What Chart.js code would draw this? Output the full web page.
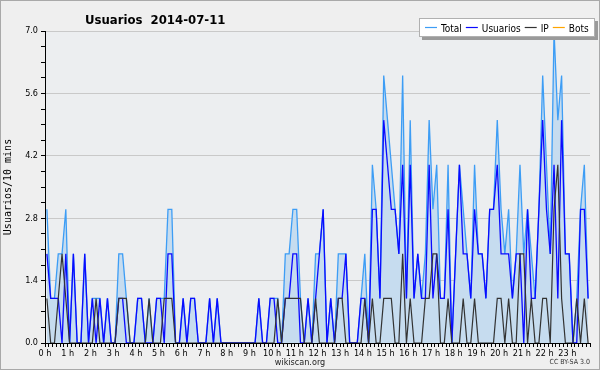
<!DOCTYPE html>
<html>
<head>
<meta charset="utf-8">
<title>Usuarios 2014-07-11</title>
<script src="https://cdn.jsdelivr.net/npm/chart.js@4"></script>
<style>
  html, body { margin: 0; padding: 0; background: #efefef; }
  canvas { display: block; }
</style>
</head>
<body>
<canvas id="chart" width="600" height="370"></canvas>
<script>
// one value per 10 minutes, 144 per day (12 per row = 2 hours)
const total = [
  3,1,1,2,2,3,0,2,0,0,2,0,
  1,1,1,0,1,0,0,2,2,1,0,0,
  1,1,0,1,0,1,1,1,3,3,0,0,
  1,0,1,1,0,0,0,1,0,1,0,0,
  0,0,0,0,0,0,0,0,1,0,0,1,
  1,1,0,2,2,3,3,1,0,1,0,2,
  2,3,0,1,0,2,2,2,0,0,0,1,
  2,0,4,3,1,6,5,4,3,2,6,1,
  5,1,2,1,2,5,3,4,1,1,4,0,
  2,4,3,2,1,4,2,2,1,3,3,5,
  3,2,3,1,2,4,2,3,2,1,3,6,
  4,2,7,5,6,2,2,0,1,3,4,1
];
const usuarios = [
  2,1,1,1,0,2,0,2,0,0,2,0,
  1,0,1,0,1,0,0,1,1,0,0,0,
  1,1,0,0,0,1,1,0,2,2,0,0,
  1,0,1,1,0,0,0,1,0,1,0,0,
  0,0,0,0,0,0,0,0,1,0,0,1,
  1,0,0,1,1,2,2,0,0,1,0,1,
  2,3,0,1,0,1,1,2,0,0,0,1,
  1,0,3,3,1,5,4,3,3,2,4,1,
  4,1,2,1,1,4,1,2,1,1,3,0,
  2,4,2,2,1,3,2,2,1,3,3,4,
  2,2,2,1,2,2,0,3,1,1,3,5,
  3,2,4,1,5,2,2,0,0,3,3,1
];
const ip = [
  1,0,0,1,2,1,0,0,0,0,0,0,
  0,1,0,0,0,0,0,1,1,1,0,0,
  0,0,0,1,0,0,0,1,1,1,0,0,
  0,0,0,0,0,0,0,0,0,0,0,0,
  0,0,0,0,0,0,0,0,0,0,0,0,
  0,1,0,1,1,1,1,1,0,0,0,1,
  0,0,0,0,0,1,1,0,0,0,0,0,
  1,0,1,0,0,1,1,1,0,0,2,0,
  1,0,0,0,1,1,2,2,0,0,1,0,
  0,0,1,0,0,1,0,0,0,0,0,1,
  1,0,1,0,0,2,2,0,1,0,0,1,
  1,0,3,4,1,0,0,0,1,0,1,0
];
const bots = []; // no bot activity that day

const yMax = 7;
const yStep = 0.35;   // small ticks, labels every 1.4

// points sit in the middle of their 10 min slot
function toPoints(arr) {
  return arr.map((v, i) => ({ x: i + 0.5, y: v }));
}

const FONT = "'DejaVu Sans Condensed', 'Liberation Sans', sans-serif";

const decor = {
  id: 'decor',
  beforeDraw(chart) {
    const { ctx, chartArea: a } = chart;
    ctx.save();
    ctx.fillStyle = '#efefef';
    ctx.fillRect(0, 0, chart.width, chart.height);
    ctx.strokeStyle = '#a9a9a9';
    ctx.lineWidth = 1;
    ctx.strokeRect(0.5, 0.5, chart.width - 1, chart.height - 1);
    ctx.fillStyle = '#eceef0';
    ctx.fillRect(a.left, a.top, a.right - a.left, a.bottom - a.top);
    ctx.restore();
  },
  afterDraw(chart) {
    const ctx = chart.ctx;
    ctx.save();

    // title
    ctx.fillStyle = '#000';
    ctx.font = "bold 13px " + FONT;
    ctx.textBaseline = 'alphabetic';
    ctx.textAlign = 'left';
    ctx.fillText('Usuarios  2014-07-11', 85, 24);

    // legend box with shadow
    ctx.fillStyle = '#9a9a9a';
    ctx.fillRect(422, 21, 176, 19);
    ctx.fillStyle = '#ffffff';
    ctx.fillRect(419, 18, 176, 19);
    ctx.strokeStyle = '#b0b0b0';
    ctx.strokeRect(419.5, 18.5, 175, 18);

    ctx.font = "10px " + FONT;
    let x = 425;
    chart.data.datasets.forEach(ds => {
      ctx.strokeStyle = ds.borderColor;
      ctx.lineWidth = 1.2;
      ctx.beginPath();
      ctx.moveTo(x, 27.5);
      ctx.lineTo(x + 12, 27.5);
      ctx.stroke();
      ctx.fillStyle = '#000';
      ctx.fillText(ds.label, x + 16, 32);
      x += 16 + ctx.measureText(ds.label).width + 4;
    });

    // footer
    ctx.font = "9px " + FONT;
    ctx.textAlign = 'center';
    ctx.fillStyle = '#222';
    ctx.fillText('wikiscan.org', 300, 365);
    ctx.font = "7px " + FONT;
    ctx.textAlign = 'right';
    ctx.fillStyle = '#333';
    ctx.fillText('CC BY-SA 3.0', 590, 364);
    ctx.restore();
  }
};

new Chart(document.getElementById('chart'), {
  type: 'line',
  data: {
    datasets: [
      {
        label: 'Total',
        data: toPoints(total),
        borderColor: '#3d9df5',
        backgroundColor: '#c6dcef',
        borderWidth: 1.3,
        fill: 'origin',
        order: 4
      },
      {
        label: 'Usuarios',
        data: toPoints(usuarios),
        borderColor: '#0a0aff',
        borderWidth: 1.3,
        fill: false,
        order: 3
      },
      {
        label: 'IP',
        data: toPoints(ip),
        borderColor: '#333333',
        borderWidth: 1.2,
        fill: false,
        order: 2
      },
      {
        label: 'Bots',
        data: toPoints(bots),
        borderColor: '#ffa500',
        borderWidth: 1.2,
        fill: false,
        order: 1
      }
    ]
  },
  options: {
    responsive: false,
    animation: false,
    layout: { padding: { top: 31, right: 10, left: 0, bottom: 0 } },
    elements: {
      point: { radius: 0 },
      line: { tension: 0 }
    },
    plugins: {
      legend: { display: false },
      title: { display: false },
      tooltip: { enabled: false }
    },
    scales: {
      x: {
        type: 'linear',
        min: 0,
        max: 144,
        afterFit(scale) { scale.height = 27; },
        border: { display: true, color: '#000', width: 1 },
        grid: { drawOnChartArea: false, color: '#000', tickLength: 4 },
        ticks: {
          stepSize: 1,
          autoSkip: false,
          maxRotation: 0,
          padding: 1,
          color: '#000',
          font: { family: FONT, size: 9 },
          callback: v => (v % 6 === 0 && v < 144) ? (v / 6) + ' h' : ''
        }
      },
      y: {
        min: 0,
        max: yMax,
        afterFit(scale) { scale.width = 45; },
        border: { display: true, color: '#000', width: 1 },
        grid: {
          tickLength: 4,
          tickColor: '#000',
          color: c => (Math.round(c.tick.value * 100) % 140 === 0 && c.tick.value > 0) ? '#c9c9c9' : 'rgba(0,0,0,0)'
        },
        ticks: {
          stepSize: yStep,
          autoSkip: false,
          padding: 3,
          color: '#000',
          font: { family: FONT, size: 9 },
          callback: v => Math.round(v * 100) % 140 === 0 ? v.toFixed(1) : ''
        },
        title: {
          display: true,
          text: 'Usuarios/10 mins',
          color: '#000',
          font: { family: "'DejaVu Sans Mono', monospace", size: 10 },
          padding: { top: 2, bottom: 0 }
        }
      }
    }
  },
  plugins: [decor]
});
</script>
</body>
</html>
